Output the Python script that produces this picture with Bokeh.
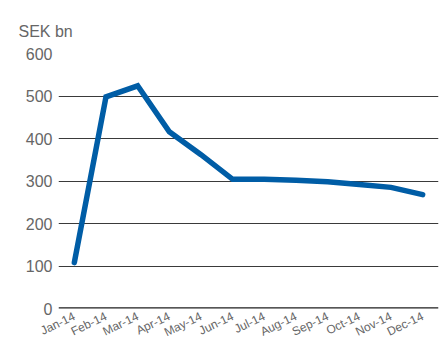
from bokeh.plotting import figure
from bokeh.models import FactorRange, Span, FixedTicker
from bokeh.embed import file_html
from bokeh.resources import INLINE

months = ["Jan-14", "Feb-14", "Mar-14", "Apr-14", "May-14", "Jun-14",
          "Jul-14", "Aug-14", "Sep-14", "Oct-14", "Nov-14", "Dec-14"]
values = [108, 498, 524, 416, 362, 304, 304, 302, 298, 292, 285, 268]
y_ticks = [0, 100, 200, 300, 400, 500, 600]
unit_label = "SEK bn"

FONT = "Liberation Sans"
GREY = "#666666"

p = figure(frame_width=380, frame_height=255, x_range=FactorRange(*months), y_range=(0, 600),
           output_backend="svg", toolbar_location=None, title=unit_label,
           min_border_left=58, min_border_right=6, min_border_top=53, min_border_bottom=37)
p.outline_line_color = None
p.background_fill_color = "white"
p.border_fill_color = "white"

p.title.text_font = FONT
p.title.text_font_size = "16px"
p.title.text_font_style = "normal"
p.title.text_color = GREY
p.title.align = "left"
p.title.offset = -40
p.title.standoff = 27

p.xgrid.grid_line_color = None
p.ygrid.grid_line_color = "#3a3a3a"
p.ygrid.grid_line_width = 1
p.yaxis.ticker = FixedTicker(ticks=y_ticks)

for ax in (p.xaxis, p.yaxis):
    ax.axis_line_color = None
    ax.major_tick_line_color = None
    ax.minor_tick_line_color = None
    ax.major_tick_out = 0
    ax.major_tick_in = 0
    ax.major_label_text_font = FONT
    ax.major_label_text_color = GREY

p.yaxis.major_label_text_font_size = "16px"
p.yaxis.major_label_standoff = 6
p.xaxis.major_label_text_font_size = "12px"
p.xaxis.major_label_orientation = 0.45
p.xaxis.major_label_standoff = 7

p.add_layout(Span(location=0, dimension="width", line_color="#1e1e1e", line_width=2.5))

p.line(x=months, y=values, line_color="#005da6", line_width=5.5,
       line_cap="round", line_join="miter")

open("out.html", "w").write(file_html(p, INLINE))
